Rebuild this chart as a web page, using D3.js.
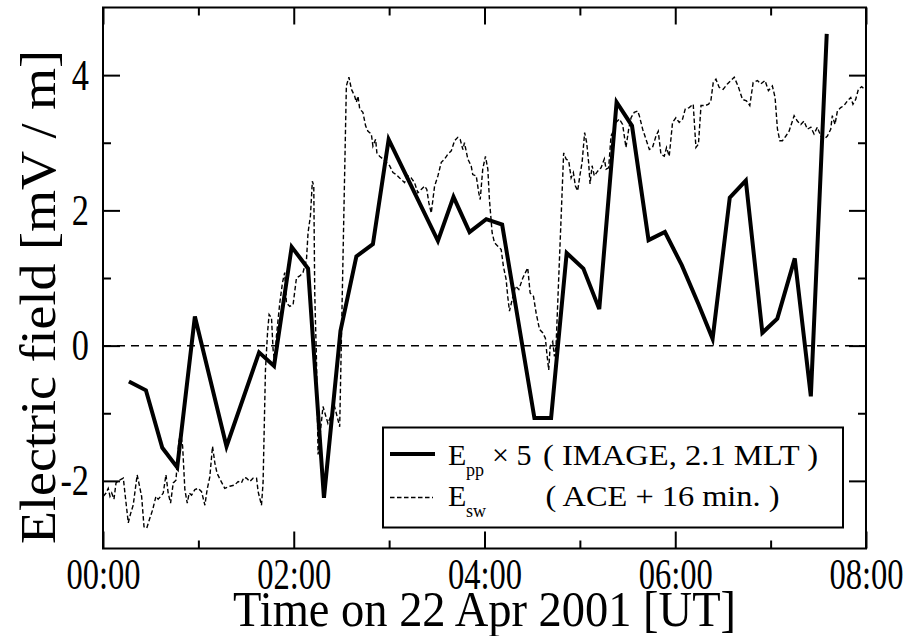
<!DOCTYPE html>
<html>
<head>
<meta charset="utf-8">
<script src="https://cdn.jsdelivr.net/npm/d3@7"></script>
<style>
body { margin: 0; background: #fff; }
svg { display: block; }
text { font-family: "Liberation Serif", "Times New Roman", serif; }
</style>
</head>
<body>
<svg></svg>
<script>
const size = {w: 909, h: 636};
const plot = {l: 103, r: 866, t: 7.5, b: 548.5};
const serif = '"Liberation Serif", "Times New Roman", serif';

// E_pp x 5 from IMAGE (2.1 MLT): [minutes after 00:00 UT, mV/m]
const eppData = [
    [16.3, -0.53], [27.0, -0.66], [37.3, -1.51], [46.7, -1.80], [57.8, 0.43],
    [77.7, -1.49], [98.2, -0.10], [107.6, -0.30], [118.7, 1.46], [129.0, 1.14],
    [139.0, -2.25], [149.4, 0.22], [159.4, 1.32], [169.8, 1.50], [179.7, 3.05],
    [210.7, 1.55], [220.5, 2.20], [230.6, 1.68], [241.1, 1.87], [251.1, 1.79],
    [271.4, -1.07], [281.9, -1.07], [291.7, 1.37], [302.2, 1.14], [312.2, 0.54],
    [323.1, 3.60], [332.8, 3.25], [343.2, 1.56], [353.5, 1.68], [364.1, 1.19],
    [374.5, 0.62], [383.5, 0.10], [394.3, 2.19], [404.4, 2.44], [414.8, 0.19],
    [424.2, 0.40], [435.2, 1.29], [445.3, -0.75], [455.3, 4.61]
];

// E_sw from ACE, shifted + 16 min: [minutes, mV/m]
const eswData = [
    [0.2, -2.23], [1.9, -2.18], [3.3, -2.11], [4.4, -2.23], [5.5, -2.18], [6.9, -2.27], [8.2, -2.03], [9.6, -2.00],
    [12.8, -1.96], [13.8, -2.18], [15.9, -2.62], [17.4, -2.48], [19.0, -2.36], [21.5, -1.91], [24.3, -2.23], [25.8, -2.68],
    [27.5, -2.70], [29.5, -2.55], [31.2, -2.43], [33.3, -2.23], [34.7, -2.27], [36.3, -2.23], [37.9, -2.18], [39.6, -1.91],
    [41.0, -2.18], [42.5, -2.33], [44.2, -2.03], [45.9, -1.99], [47.6, -1.44], [48.8, -1.29], [50.1, -1.49], [51.5, -2.13],
    [53.0, -2.33], [54.2, -2.18], [55.7, -2.21], [57.8, -2.13], [59.9, -2.11], [62.0, -2.16], [64.1, -2.36], [65.5, -2.13],
    [67.2, -1.94], [68.9, -1.49], [70.4, -1.74], [71.8, -1.89], [73.9, -1.99], [76.6, -2.11], [79.8, -2.08], [82.9, -2.06],
    [85.0, -2.01], [87.1, -2.03], [88.6, -1.95], [90.3, -1.96], [92.4, -2.01], [94.4, -1.96], [96.6, -1.96], [97.6, -2.16],
    [99.7, -2.36], [100.7, -2.03], [102.2, -0.36], [103.5, 0.19], [104.5, 0.46], [106.0, 0.41], [107.0, -0.06], [108.1, -0.26],
    [109.1, 0.14], [111.2, 0.63], [112.9, 0.93], [114.3, 1.08], [115.4, 0.63], [117.5, 0.58], [119.6, 0.61], [121.7, 1.00],
    [123.8, 1.03], [125.8, 1.08], [128.0, 1.27], [129.0, 1.67], [130.5, 1.92], [131.7, 2.43], [132.6, 2.36], [133.2, 0.78],
    [134.3, -0.21], [135.3, -1.61], [138.4, -0.90], [141.5, -1.15], [145.7, -0.90], [148.9, -1.20], [153.1, 3.84], [154.7, 3.97],
    [156.3, 3.79], [158.3, 3.69], [159.4, 3.60], [160.4, 3.69], [161.5, 3.50], [163.5, 3.45], [165.2, 3.25], [166.7, 3.17],
    [168.8, 3.13], [169.8, 2.95], [171.5, 3.05], [172.3, 2.85], [174.0, 2.80], [176.1, 2.76], [178.2, 2.71], [180.3, 2.66],
    [182.4, 2.56], [184.5, 2.53], [186.6, 2.48], [189.7, 2.41], [191.8, 2.51], [193.9, 2.48], [196.0, 2.41], [198.1, 2.26],
    [200.2, 2.31], [202.3, 2.36], [203.7, 2.31], [205.0, 2.11], [206.5, 1.96], [208.6, 2.36], [210.7, 2.51], [212.8, 2.71],
    [214.9, 2.76], [216.9, 2.83], [219.1, 2.88], [221.2, 3.03], [223.2, 3.08], [224.7, 3.05], [226.4, 2.90], [227.4, 3.00],
    [229.5, 2.76], [231.6, 2.66], [232.6, 2.53], [234.8, 2.51], [236.4, 2.26], [237.3, 2.16], [238.9, 2.61], [240.6, 2.80],
    [242.1, 2.61], [243.1, 2.16], [244.8, 1.67], [246.3, 1.52], [248.4, 1.47], [250.5, 1.42], [251.9, 1.17], [253.6, 0.98],
    [254.6, 0.73], [255.7, 0.51], [257.4, 0.68], [259.5, 0.88], [261.6, 0.83], [264.1, 1.00], [267.2, 1.15], [268.7, 0.78],
    [270.8, 0.73], [272.5, 0.48], [274.6, 0.24], [276.6, 0.19], [278.3, 0.11], [279.2, -0.11], [280.4, -0.36], [281.3, -0.01],
    [282.9, 0.06], [284.0, -0.16], [285.0, -0.01], [289.8, 2.85], [291.3, 2.76], [293.0, 2.73], [294.5, 2.48], [295.9, 2.56],
    [297.2, 2.36], [298.6, 2.29], [300.1, 2.53], [301.4, 2.71], [303.0, 3.15], [304.3, 3.00], [305.5, 2.71], [306.4, 2.39],
    [307.7, 2.66], [309.1, 2.51], [311.2, 2.58], [313.3, 2.63], [315.4, 2.76], [316.5, 2.61], [318.1, 2.63], [319.6, 3.10],
    [321.0, 3.17], [322.7, 3.30], [324.8, 3.35], [326.9, 3.27], [329.0, 2.93], [330.7, 3.20], [332.2, 3.37], [334.2, 3.45],
    [336.3, 3.47], [337.4, 3.40], [339.5, 3.20], [341.6, 3.05], [343.7, 2.90], [345.7, 2.93], [347.9, 3.10], [349.3, 3.17],
    [351.0, 2.83], [353.1, 2.80], [354.5, 2.93], [356.2, 2.80], [358.3, 3.30], [360.4, 3.37], [362.5, 3.30], [364.6, 3.35],
    [366.3, 3.50], [368.8, 3.52], [371.3, 3.57], [373.0, 2.93], [374.6, 2.98], [376.2, 3.55], [378.9, 3.55], [381.0, 3.57],
    [382.4, 3.62], [383.9, 3.89], [385.6, 3.94], [387.6, 3.82], [390.1, 3.79], [392.8, 3.87], [397.1, 3.97], [399.8, 3.82],
    [402.3, 3.64], [404.8, 3.62], [406.9, 3.55], [409.0, 3.89], [411.7, 3.92], [413.8, 3.87], [416.5, 3.92], [418.6, 3.77],
    [421.1, 3.84], [422.8, 3.67], [424.3, 3.20], [425.8, 3.03], [427.4, 3.03], [429.6, 3.10], [431.6, 3.17], [434.8, 3.40],
    [436.8, 3.32], [439.0, 3.27], [441.0, 3.32], [443.1, 3.20], [445.3, 3.23], [447.3, 3.13], [449.4, 3.23], [451.5, 3.10],
    [453.6, 3.05], [455.7, 3.10], [457.8, 3.20], [458.8, 3.40], [460.5, 3.27], [462.0, 3.47], [464.1, 3.52], [466.2, 3.55],
    [468.3, 3.62], [470.4, 3.67], [471.8, 3.57], [473.5, 3.64], [475.2, 3.79], [477.3, 3.83], [479.2, 3.79]
];

const majorX = [0, 120, 240, 360, 480];
const minorX = [60, 180, 300, 420];
const majorY = [-2, 0, 2, 4];
const minorY = [-1, 1, 3];

const svg = d3.select('svg')
    .attr('width', size.w)
    .attr('height', size.h)
    .attr('font-family', serif);

const x = d3.scaleLinear().domain([0, 480]).range([plot.l, plot.r]);
const y = d3.scaleLinear().domain([-3, 5]).range([plot.b, plot.t]);

const line = d3.line()
    .x(d => x(d[0]))
    .y(d => y(d[1]));

// squeeze text to look like the narrow Times of the original
function condense(sel, k) {
    sel.each(function() {
        let w = this.getComputedTextLength();
        d3.select(this).attr('textLength', w * k).attr('lengthAdjust', 'spacingAndGlyphs');
    });
}

// zero line
svg.append('line')
    .attr('x1', plot.l).attr('x2', plot.r)
    .attr('y1', y(0)).attr('y2', y(0))
    .attr('stroke', '#000')
    .attr('stroke-width', 1.5)
    .attr('stroke-dasharray', '8,6');

svg.append('path')
    .datum(eswData)
    .attr('d', line)
    .attr('fill', 'none')
    .attr('stroke', '#000')
    .attr('stroke-width', 1.4)
    .attr('stroke-dasharray', '4.5,2.5');

svg.append('path')
    .datum(eppData)
    .attr('d', line)
    .attr('fill', 'none')
    .attr('stroke', '#000')
    .attr('stroke-width', 4)
    .attr('stroke-linejoin', 'miter');

// axes, ticks pointing inward on all four sides
function styleAxis(g) {
    g.attr('font-family', serif).attr('font-size', null);
    g.select('.domain').remove();
    g.selectAll('line').attr('stroke', '#000').attr('stroke-width', 2);
}

const xBottom = svg.append('g').attr('transform', `translate(0,${plot.b})`)
    .call(d3.axisBottom(x).tickValues(majorX).tickSize(-17).tickPadding(9)
        .tickFormat(d => String(d / 60).padStart(2, '0') + ':00'))
    .call(styleAxis);
svg.append('g').attr('transform', `translate(0,${plot.b})`)
    .call(d3.axisBottom(x).tickValues(minorX).tickSize(-8).tickFormat(''))
    .call(styleAxis);
svg.append('g').attr('transform', `translate(0,${plot.t})`)
    .call(d3.axisTop(x).tickValues(majorX).tickSize(-17).tickFormat(''))
    .call(styleAxis);
svg.append('g').attr('transform', `translate(0,${plot.t})`)
    .call(d3.axisTop(x).tickValues(minorX).tickSize(-8).tickFormat(''))
    .call(styleAxis);

const yLeft = svg.append('g').attr('transform', `translate(${plot.l},0)`)
    .call(d3.axisLeft(y).tickValues(majorY).tickSize(-17).tickPadding(14)
        .tickFormat(d => String(d)))
    .call(styleAxis);
svg.append('g').attr('transform', `translate(${plot.l},0)`)
    .call(d3.axisLeft(y).tickValues(minorY).tickSize(-8).tickFormat(''))
    .call(styleAxis);
svg.append('g').attr('transform', `translate(${plot.r},0)`)
    .call(d3.axisRight(y).tickValues(majorY).tickSize(-17).tickFormat(''))
    .call(styleAxis);
svg.append('g').attr('transform', `translate(${plot.r},0)`)
    .call(d3.axisRight(y).tickValues(minorY).tickSize(-8).tickFormat(''))
    .call(styleAxis);

xBottom.selectAll('text')
    .attr('font-family', serif)
    .attr('font-size', 44)
    .attr('fill', '#000')
    .call(condense, 0.74);
yLeft.selectAll('text')
    .attr('font-family', serif)
    .attr('font-size', 44)
    .attr('fill', '#000')
    .call(condense, 0.78);

// frame
svg.append('rect')
    .attr('x', plot.l).attr('y', plot.t)
    .attr('width', plot.r - plot.l)
    .attr('height', plot.b - plot.t)
    .attr('fill', 'none')
    .attr('stroke', '#000')
    .attr('stroke-width', 2);

// axis titles
svg.append('text')
    .attr('x', (plot.l + plot.r) / 2)
    .attr('y', 626)
    .attr('text-anchor', 'middle')
    .attr('font-family', serif)
    .attr('font-size', 50)
    .attr('textLength', 503)
    .attr('lengthAdjust', 'spacingAndGlyphs')
    .text('Time on 22 Apr 2001 [UT]');

svg.append('text')
    .attr('transform', 'translate(55,297) rotate(-90)')
    .attr('text-anchor', 'middle')
    .attr('font-family', serif)
    .attr('font-size', 50)
    .attr('textLength', 494)
    .attr('lengthAdjust', 'spacingAndGlyphs')
    .text('Electric field [mV / m]');

// legend
const legend = svg.append('g').attr('font-family', serif);
legend.append('rect')
    .attr('x', 383).attr('y', 427.5)
    .attr('width', 460).attr('height', 100)
    .attr('fill', '#fff')
    .attr('stroke', '#000')
    .attr('stroke-width', 2);

legend.append('line')
    .attr('x1', 390).attr('x2', 435)
    .attr('y1', 454).attr('y2', 454)
    .attr('stroke', '#000').attr('stroke-width', 4);
legend.append('line')
    .attr('x1', 390).attr('x2', 433)
    .attr('y1', 497.5).attr('y2', 497.5)
    .attr('stroke', '#000').attr('stroke-width', 1.3)
    .attr('stroke-dasharray', '4.5,2.5');

const legendRows = [
    {y: 465, sub: 'pp', mid: '\u00d7 5', text: '( IMAGE, 2.1 MLT )', tx: 543, tw: 275},
    {y: 506, sub: 'sw', mid: '', text: '( ACE + 16 min. )', tx: 545.5, tw: 234}
];

legendRows.forEach(function(row) {
    legend.append('text').attr('x', 448).attr('y', row.y)
        .attr('font-size', 30).text('E');
    legend.append('text').attr('x', 466).attr('y', row.y + 11)
        .attr('font-size', 18).text(row.sub);
    if (row.mid) {
        legend.append('text').attr('x', 492).attr('y', row.y)
            .attr('font-size', 30).text(row.mid);
    }
    legend.append('text').attr('x', row.tx).attr('y', row.y)
        .attr('font-size', 30)
        .attr('textLength', row.tw)
        .attr('lengthAdjust', 'spacingAndGlyphs')
        .text(row.text);
});
</script>
</body>
</html>
